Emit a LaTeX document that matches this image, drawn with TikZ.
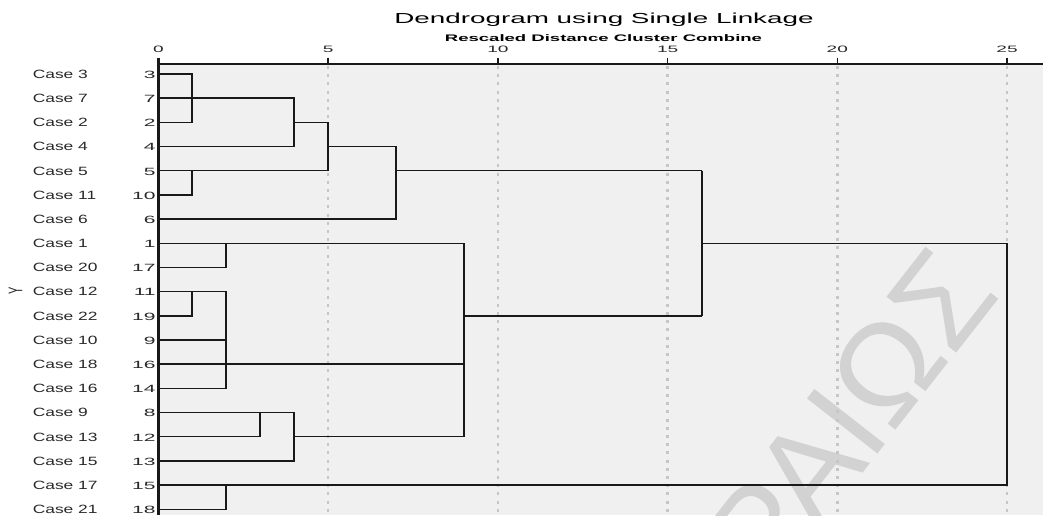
\documentclass[tikz,border=0pt]{standalone}
\usepackage{fontspec}
\setmainfont{Liberation Sans}
\newcommand{\fsz}[1]{\fontsize{#1}{#1}\selectfont}
\definecolor{bg}{RGB}{240,240,240}
\definecolor{gridc}{RGB}{198,198,198}
\definecolor{wmc}{RGB}{210,210,210}
\definecolor{ink}{RGB}{25,25,25}
\definecolor{lbl}{RGB}{40,40,40}
\begin{document}
\begin{tikzpicture}[x=1pt,y=-1pt,
  hl/.style={draw=ink, line width=1.5pt, line cap=rect},
  vl/.style={draw=ink, line width=2.1pt},
  gridline/.style={draw=gridc, line width=2.4pt, dash pattern=on 3pt off 5.2pt},
  axisline/.style={draw=ink, line width=1.5pt},
  caselbl/.style={font=\fsz{12}, xscale=1.45, anchor=base west, inner sep=0pt, text=lbl},
  numlbl/.style={font=\fsz{10.5}, xscale=2, anchor=base east, inner sep=0pt, text=lbl},
  ticklbl/.style={font=\fsz{9.3}, xscale=2.05, anchor=base, inner sep=0pt, text=lbl},
  titlelbl/.style={font=\fsz{14.5}, xscale=1.92, anchor=base, inner sep=0pt, text=black},
  sublbl/.style={font=\bfseries\fsz{9.5}, xscale=1.95, anchor=base, inner sep=0pt, text=black},
  wmk/.style={font=\fsz{130}, text=wmc, rotate=52, anchor=base east, inner sep=0pt}
]
\useasboundingbox (0,0) rectangle (1043,515);
\clip (0,0) rectangle (1043,515);
% plot background
\fill[bg] (158.5,64) rectangle (1043,515);
% watermark
\node[wmk] (watermark) at (1002,295) {ΩΡΑΙΩΣ};
% grid
\foreach \d in {5,10,15,20,25}
  \draw[gridline] ({158.5+33.94*\d},66) -- ({158.5+33.94*\d},515);
% axis
\draw[axisline] (158.5,64) -- (1043,64);
\foreach \d in {5,10,15,20,25}
  \draw[axisline] ({158.5+33.94*\d},57.5) -- ({158.5+33.94*\d},64);
\draw[draw=ink, line width=2.3pt] (158.5,57.5) -- (158.5,515);
\foreach \d in {0,5,10,15,20,25}
  \node[ticklbl] (t\d) at ({158.5+33.94*\d},52.7) {\d};
% titles
\node[titlelbl] (title) at (604,23.3) {Dendrogram using Single Linkage};
\node[sublbl] (subtitle) at (603.5,41) {Rescaled Distance Cluster Combine};
% y label
\node[font=\fsz{11}, xscale=1.8, inner sep=0pt, text=lbl] (ylab) at (15.5,291) {\rotatebox{90}{Y}};
% case labels
\foreach \c/\n [count=\i from 0] in {3/3,7/7,2/2,4/4,5/5,11/10,6/6,1/1,20/17,12/11,22/19,10/9,18/16,16/14,9/8,13/12,15/13,17/15,21/18} {
  \node[caselbl] (case\c) at (32.5,{74+24.18*\i+4.3}) {Case \c};
  \node[numlbl] (num\n) at (156,{74+24.18*\i+4.3}) {\n};
}
% dendrogram
\begin{scope}[shift={(158.5pt,-74pt)}, x=33.94pt, y=-24.18pt]
  % horizontals
  \draw[hl] (0,0) -- (1,0);
  \draw[hl] (0,1) -- (4,1);
  \draw[hl] (0,2) -- (1,2);
  \draw[hl] (0,3) -- (4,3);
  \draw[hl] (0,4) -- (5,4);
  \draw[hl] (0,5) -- (1,5);
  \draw[hl] (0,6) -- (7,6);
  \draw[hl] (4,2) -- (5,2);
  \draw[hl] (5,3) -- (7,3);
  \draw[hl] (7,4) -- (16,4);
  \draw[hl] (0,7) -- (9,7);
  \draw[hl] (0,8) -- (2,8);
  \draw[hl] (0,9) -- (2,9);
  \draw[hl] (0,10) -- (1,10);
  \draw[hl] (0,11) -- (2,11);
  \draw[hl] (0,12) -- (9,12);
  \draw[hl] (0,13) -- (2,13);
  \draw[hl] (0,14) -- (4,14);
  \draw[hl] (0,15) -- (3,15);
  \draw[hl] (0,16) -- (4,16);
  \draw[hl] (4,15) -- (9,15);
  \draw[hl] (9,10) -- (16,10);
  \draw[hl] (16,7) -- (25,7);
  \draw[hl] (0,17) -- (25,17);
  \draw[hl] (0,18) -- (2,18);
  % verticals
  \draw[vl] (1,0) -- (1,2);
  \draw[vl] (4,1) -- (4,3);
  \draw[vl] (5,2) -- (5,4);
  \draw[vl] (1,4) -- (1,5);
  \draw[vl] (7,3) -- (7,6);
  \draw[vl] (16,4) -- (16,10);
  \draw[vl] (2,7) -- (2,8);
  \draw[vl] (9,7) -- (9,15);
  \draw[vl] (1,9) -- (1,10);
  \draw[vl] (2,9) -- (2,13);
  \draw[vl] (3,14) -- (3,15);
  \draw[vl] (4,14) -- (4,16);
  \draw[vl] (25,7) -- (25,17);
  \draw[vl] (2,17) -- (2,18);
\end{scope}
\end{tikzpicture}
\end{document}
